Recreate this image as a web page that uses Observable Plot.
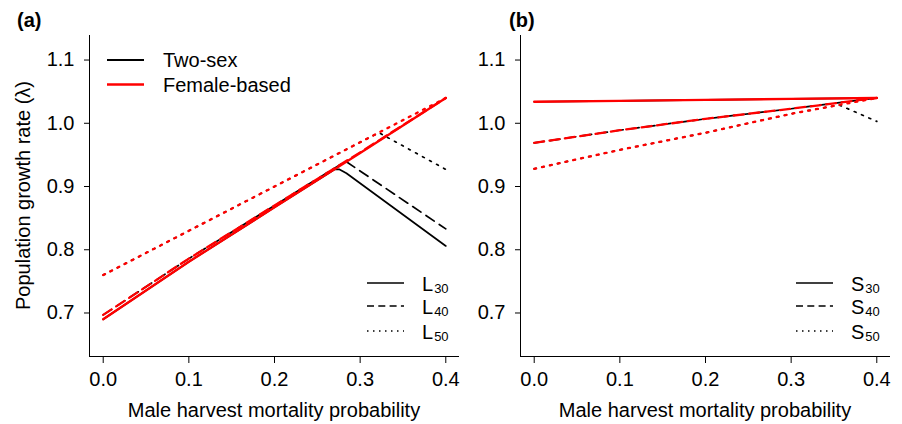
<!DOCTYPE html>
<html><head><meta charset="utf-8">
<script src="https://cdn.jsdelivr.net/npm/d3@7"></script>
<script src="https://cdn.jsdelivr.net/npm/@observablehq/plot@0.6"></script>
<style>
body{margin:0;background:#fff;}
#wrap{position:relative;width:902px;height:424px;overflow:hidden;background:#fff;}
#wrap svg{position:absolute;top:0;}
</style></head><body><div id="wrap"></div>
<script>
// ---- axis settings ----
const xTicks = [0, 0.1, 0.2, 0.3, 0.4];
const yTicks = [0.7, 0.8, 0.9, 1.0, 1.1];
const xLim = [0, 0.4];
const yLim = [0.65, 1.12];
const xTitle = "Male harvest mortality probability";
const yTitle = "Population growth rate (\u03bb)";
const panelTitles = ["(a)", "(b)"];
const groupLabels = ["Two-sex", "Female-based"];
const aLegendBase = "L", bLegendBase = "S";
const levelSubs = ["30", "40", "50"];

// ---- panel (a): female-based (red) ----
const aFemaleX = [0, 0.1, 0.2, 0.3, 0.4];
const aFemaleL30 = [0.690, 0.781, 0.867, 0.953, 1.040];
const aFemaleL40 = [0.697, 0.786, 0.870, 0.954, 1.040];
const aFemaleL50 = [0.760, 0.830, 0.900, 0.970, 1.040];
// ---- panel (a): two-sex (black) ----
const aTwoL30x = [0, 0.1, 0.2, 0.27, 0.276, 0.284, 0.4];
const aTwoL30y = [0.690, 0.781, 0.867, 0.927, 0.927, 0.921, 0.806];
const aTwoL40x = [0, 0.1, 0.2, 0.283, 0.4];
const aTwoL40y = [0.697, 0.786, 0.870, 0.940, 0.833];
const aTwoL50x = [0, 0.1, 0.2, 0.3, 0.322, 0.4];
const aTwoL50y = [0.760, 0.830, 0.900, 0.970, 0.985, 0.927];

// ---- panel (b): female-based (red) ----
const bFemaleX = [0, 0.1, 0.2, 0.3, 0.4];
const bFemaleS30 = [1.034, 1.0355, 1.037, 1.0385, 1.040];
const bFemaleS40 = [0.969, 0.989, 1.007, 1.023, 1.040];
const bFemaleS50 = [0.928, 0.958, 0.985, 1.015, 1.040];
// ---- panel (b): two-sex (black) ----
const bTwoS30x = [0, 0.1, 0.2, 0.3, 0.4];
const bTwoS30y = [1.034, 1.0355, 1.037, 1.0385, 1.040];
const bTwoS40x = [0, 0.1, 0.2, 0.3, 0.4];
const bTwoS40y = [0.969, 0.989, 1.007, 1.023, 1.040];
const bTwoS50x = [0, 0.1, 0.2, 0.3, 0.356, 0.4];
const bTwoS50y = [0.928, 0.958, 0.985, 1.015, 1.029, 1.003];

const FONT = '"Liberation Sans", Arimo, Arial, Helvetica, sans-serif';
const pts = (xs, ys) => xs.map((x, i) => ({x, y: ys[i]}));
const ext = (l) => [l[0] - 0.04 * (l[1] - l[0]), l[1] + 0.04 * (l[1] - l[0])];

const dashes = {
  black: ["none", "10,6", "2,6"],
  red: ["none", "10,5.5", "2,6"]
};

function panel(cfg) {
  const xd = ext(xLim), yd = ext(yLim);
  const marks = [];
  cfg.black.forEach((s, i) => marks.push(Plot.line(pts(s[0], s[1]), {
    x: "x", y: "y", stroke: "black", strokeWidth: 1.7, strokeDasharray: dashes.black[i]
  })));
  cfg.red.forEach((s, i) => marks.push(Plot.line(pts(s[0], s[1]), {
    x: "x", y: "y", stroke: "red", strokeWidth: 2.3, strokeDasharray: dashes.red[i]
  })));
  marks.push(Plot.ruleX([xd[0]], {stroke: "black", strokeWidth: 1}));
  marks.push(Plot.ruleY([yd[0]], {stroke: "black", strokeWidth: 1}));
  const svg = Plot.plot({
    width: 470, height: 424,
    marginLeft: 89, marginRight: 11, marginTop: 35, marginBottom: 68,
    x: {domain: xd, ticks: xTicks, tickFormat: d3.format(".1f"), tickSize: 7, tickPadding: 8, label: null},
    y: {domain: yd, ticks: yTicks, tickFormat: d3.format(".1f"), tickSize: 5, tickPadding: 10, label: null},
    style: {fontSize: "20px", fontFamily: FONT, background: "transparent", color: "black", overflow: "visible"},
    marks
  });
  svg.style.left = cfg.left + "px";
  const g = d3.select(svg).append("g")
    .attr("font-family", FONT).attr("font-size", 20).attr("fill", "black")
    .attr("text-anchor", "start");
  // panel title
  g.append("text").attr("x", cfg.titleX).attr("y", 27).attr("font-weight", "bold").text(cfg.title);
  // x title
  g.append("text").attr("x", 274).attr("y", 417).attr("text-anchor", "middle").text(xTitle);
  if (cfg.yTitle) {
    g.append("text").attr("transform", "translate(30,195.5) rotate(-90)")
      .attr("text-anchor", "middle").text(yTitle);
  }
  if (cfg.groupLegend) {
    const rows = [["black", 2.2, groupLabels[0], 60], ["red", 2.4, groupLabels[1], 84.5]];
    rows.forEach(([c, w, t, y]) => {
      g.append("line").attr("x1", 107).attr("x2", 144).attr("y1", y).attr("y2", y)
        .attr("stroke", c).attr("stroke-width", w);
      g.append("text").attr("x", 163).attr("y", y + 7).text(t);
    });
  }
  // line type legend
  const ly = [283, 306, 331];
  const ld = ["none", "7,4.3", "1.5,4.5"];
  ly.forEach((y, i) => {
    g.append("line").attr("x1", cfg.legX1).attr("x2", cfg.legX1 + 37).attr("y1", y).attr("y2", y)
      .attr("stroke", "black").attr("stroke-width", 1.6).attr("stroke-dasharray", ld[i]);
    const t = g.append("text").attr("x", cfg.legTX).attr("y", y + 7.5);
    t.append("tspan").text(cfg.base);
    t.append("tspan").attr("font-size", 13).attr("dx", 1).attr("dy", 2).text(levelSubs[i]);
  });
  return svg;
}

const wrap = document.getElementById("wrap");
wrap.appendChild(panel({
  left: 0, title: panelTitles[0], titleX: 17, yTitle: true, groupLegend: true,
  legX1: 367, legTX: 422, base: aLegendBase,
  black: [[aTwoL30x, aTwoL30y], [aTwoL40x, aTwoL40y], [aTwoL50x, aTwoL50y]],
  red: [[aFemaleX, aFemaleL30], [aFemaleX, aFemaleL40], [aFemaleX, aFemaleL50]]
}));
wrap.appendChild(panel({
  left: 431, title: panelTitles[1], titleX: 78, yTitle: false, groupLegend: false,
  legX1: 365, legTX: 420, base: bLegendBase,
  black: [[bTwoS30x, bTwoS30y], [bTwoS40x, bTwoS40y], [bTwoS50x, bTwoS50y]],
  red: [[bFemaleX, bFemaleS30], [bFemaleX, bFemaleS40], [bFemaleX, bFemaleS50]]
}));
</script></body></html>
